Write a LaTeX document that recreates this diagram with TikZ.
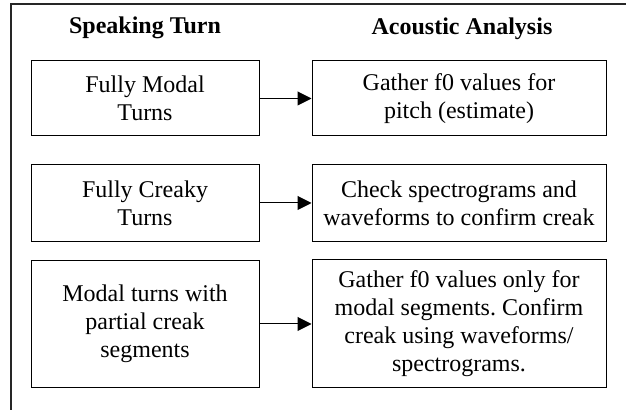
\documentclass[tikz,border=0pt]{standalone}
\usepackage{fontspec}
\setmainfont{Liberation Serif}
\usetikzlibrary{arrows.meta,positioning}
\frenchspacing

\begin{document}
\begin{tikzpicture}[
				every node/.style={on grid,font=\fontsize{12}{14}\selectfont},
				turn/.style={draw,line width=0.5pt,rectangle,align=center,minimum width=114pt,inner sep=0pt},
				task/.style={draw,line width=0.5pt,rectangle,align=center,minimum width=147pt,inner sep=0pt},
				head/.style={font=\fontsize{12}{14}\selectfont\bfseries},
				>={Triangle[length=7pt,width=7pt]}
				]
				\useasboundingbox (0,0) rectangle (313pt,-205pt);
				
				% outer frame
				\coordinate (fbl) at (5.5pt,-205pt);
				\coordinate (ftr) at (313pt,-2pt);
				\draw[line width=0.8pt,black!85] (fbl) |- (ftr);
				
				% speaking turns
				\node[turn,minimum height=37.5pt] (modal) at (72.5pt,-49.25pt) {Fully Modal\\Turns};
				\node[turn,minimum height=38.5pt,below=52.25pt of modal] (creaky) {Fully Creaky\\Turns};
				\node[turn,minimum height=63.5pt,below=60.5pt of creaky] (partial) {Modal turns with\\partial creak\\segments};
				\node[head,above=35.25pt of modal] (hturn) {Speaking Turn};
				
				% acoustic analysis
				\node[task,minimum height=37.5pt,right=157pt of modal] (pitch) {Gather f0 values for\\pitch (estimate)};
				\node[task,minimum height=38.5pt,right=157pt of creaky] (spectro) {Check spectrograms and\\waveforms to confirm creak};
				\node[task,minimum height=64pt,right=157pt of partial] (mixed) {Gather f0 values only for\\modal segments. Confirm\\creak using waveforms/\\spectrograms.};
				\node[head,above=35pt of pitch,xshift=1.5pt] (hacoustic) {Acoustic Analysis};
				
				% the arrows
				\draw[->,line width=0.5pt] (modal) -- (pitch);
				\draw[->,line width=0.5pt] (creaky) -- (spectro);
				\draw[->,line width=0.5pt] (partial) -- (mixed);
\end{tikzpicture}
\end{document}
